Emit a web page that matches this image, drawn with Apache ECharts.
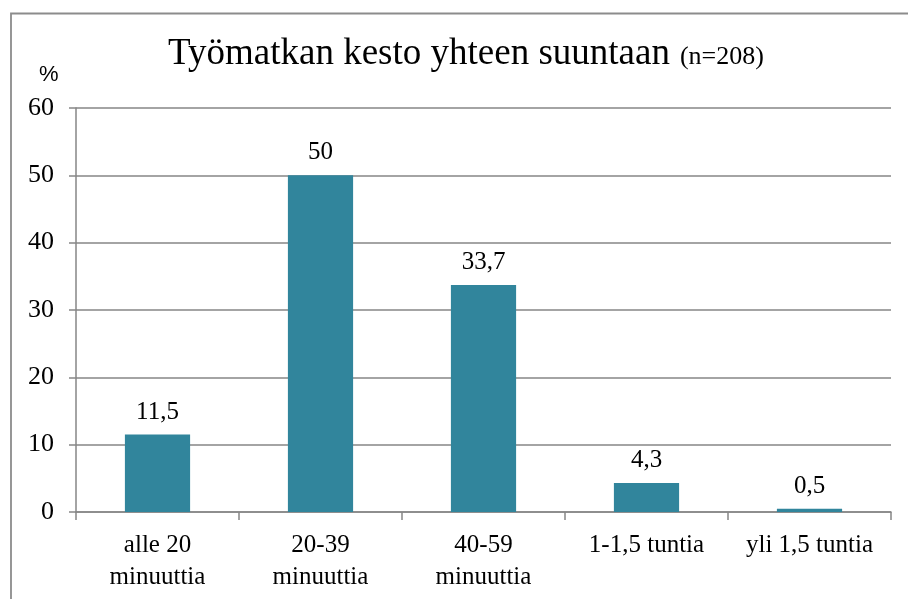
<!DOCTYPE html>
<html><head><meta charset="utf-8">
<script src="https://cdn.jsdelivr.net/npm/echarts@6/dist/echarts.min.js"></script>
<style>html,body{margin:0;padding:0;background:#fff}#c{width:908px;height:599px}</style>
</head><body><div id="c"></div>
<script>
const categories = ['alle 20\nminuuttia', '20-39\nminuuttia', '40-59\nminuuttia', '1-1,5 tuntia', 'yli 1,5 tuntia'];
const values = [11.5, 50, 33.7, 4.3, 0.5];
const labels = ['11,5', '50', '33,7', '4,3', '0,5'];
const yTicks = [0, 10, 20, 30, 40, 50, 60];

const FONT = '"Liberation Serif", "Times New Roman", serif';
const chart = echarts.init(document.getElementById('c'), null, {renderer: 'canvas'});
chart.setOption({
  backgroundColor: '#fff',
  animation: false,
  graphic: [{
    type: 'rect', left: 8.5, top: 11, shape: {width: 920, height: 600},
    style: {fill: 'none', stroke: '#8c8c8c', lineWidth: 1.8}
  }, {
    type: 'text', left: 39, top: 64,
    style: {text: '%', font: '22px "Liberation Sans", Arial, sans-serif', fill: '#000'}
  }],
  title: {
    text: '{a|Työmatkan kesto yhteen suuntaan}{b|(n=208)}',
    left: 163, top: 28,
    textStyle: {fontWeight: 'normal', rich: {
      a: {fontFamily: FONT, fontSize: 37, color: '#000', fontWeight: 'normal', lineHeight: 42},
      b: {fontFamily: FONT, fontSize: 26, color: '#000', fontWeight: 'normal', lineHeight: 42, padding: [6, 0, 0, 10]}
    }}
  },
  grid: {left: 76, right: 17, top: 108, bottom: 87, containLabel: false},
  xAxis: {
    type: 'category', data: categories,
    axisLine: {lineStyle: {color: '#868686', width: 1.5}},
    axisTick: {show: true, length: 8, lineStyle: {color: '#868686', width: 1.5}},
    axisLabel: {fontFamily: FONT, fontSize: 25, color: '#000', lineHeight: 32, margin: 17, interval: 0}
  },
  yAxis: {
    type: 'value', min: yTicks[0], max: yTicks[yTicks.length - 1], interval: 10,
    axisLine: {show: true, lineStyle: {color: '#868686', width: 1.5}},
    axisTick: {show: true, length: 7, lineStyle: {color: '#868686', width: 1.5}},
    splitLine: {lineStyle: {color: '#868686', width: 1.5}},
    axisLabel: {fontFamily: FONT, fontSize: 26, color: '#000', margin: 22}
  },
  series: [{
    type: 'bar', data: values, barCategoryGap: '60%',
    itemStyle: {color: '#31859C'},
    label: {
      show: true, position: 'top', distance: 10,
      fontFamily: FONT, fontSize: 25, color: '#000',
      formatter: p => labels[p.dataIndex]
    }
  }]
});
</script></body></html>
